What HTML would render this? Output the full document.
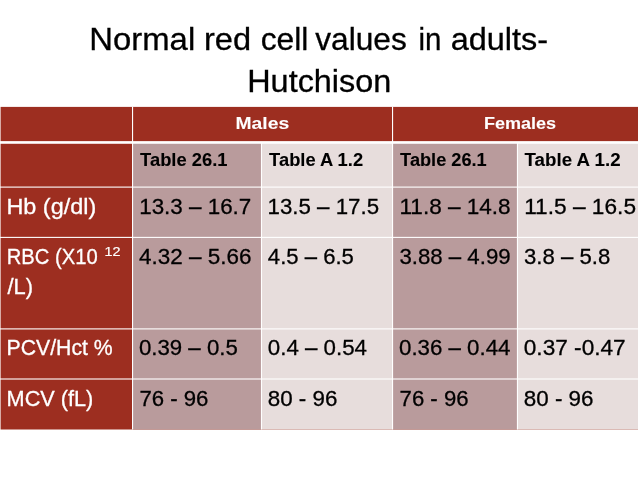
<!DOCTYPE html>
<html lang="en"><head><meta charset="utf-8"><title>Normal red cell values in adults - Hutchison</title>
<style>html,body{margin:0;padding:0;background:#fff;overflow:hidden}svg{display:block}text{font-family:"Liberation Sans",sans-serif;white-space:pre}</style></head><body>
<svg width="638" height="479" viewBox="0 0 638 479">
<rect width="638" height="479" fill="#fff"/>
<rect x="0.6" y="106.9" width="643" height="322.60" fill="#9d2e20"/>
<rect x="132.55" y="142.45" width="128.95" height="287.05" fill="#b99b9c"/>
<rect x="261.5" y="142.45" width="131.05" height="287.05" fill="#e7dddc"/>
<rect x="392.55" y="142.45" width="124.90" height="287.05" fill="#b99b9c"/>
<rect x="517.45" y="142.45" width="125.55" height="287.05" fill="#e7dddc"/>
<rect x="132.00" y="106.9" width="1.1" height="322.60" fill="#fff"/>
<rect x="392.00" y="106.9" width="1.1" height="322.60" fill="#fff"/>
<rect x="260.95" y="142.45" width="1.1" height="287.05" fill="#fff"/>
<rect x="516.90" y="142.45" width="1.1" height="287.05" fill="#fff"/>
<rect x="0" y="141.12" width="638" height="2.66" fill="#fff"/>
<rect x="0" y="186.55" width="638" height="1.1" fill="#fff"/>
<rect x="0" y="236.85" width="638" height="1.1" fill="#fff"/>
<rect x="0" y="328.35" width="638" height="1.1" fill="#fff"/>
<rect x="0" y="378.45" width="638" height="1.1" fill="#fff"/>
<text transform="translate(89.37 49.6) scale(1.0531 1)" font-size="31.2" stroke="#000" stroke-width="0.3" fill="#000" xml:space="preserve">Normal</text>
<text transform="translate(204.02 49.6) scale(1.0447 1)" font-size="31.2" stroke="#000" stroke-width="0.3" fill="#000" xml:space="preserve">red</text>
<text transform="translate(260.63 49.6) scale(1.0192 1)" font-size="31.2" stroke="#000" stroke-width="0.3" fill="#000" xml:space="preserve">cell</text>
<text transform="translate(315.18 49.6) scale(1.0157 1)" font-size="31.2" stroke="#000" stroke-width="0.3" fill="#000" xml:space="preserve">values</text>
<text transform="translate(418.53 49.6) scale(0.9465 1)" font-size="31.2" stroke="#000" stroke-width="0.3" fill="#000" xml:space="preserve">in</text>
<text transform="translate(450.70 49.6) scale(1.0395 1)" font-size="31.2" stroke="#000" stroke-width="0.3" fill="#000" xml:space="preserve">adults-</text>
<text transform="translate(247.21 92.2) scale(1.0391 1)" font-size="31.2" stroke="#000" stroke-width="0.3" fill="#000" xml:space="preserve">Hutchison</text>
<text transform="translate(235.45 128.8) scale(1.1107 1)" font-size="17.4" font-weight="700" stroke="#fff" stroke-width="0.08" fill="#fff" xml:space="preserve">Males</text>
<text transform="translate(483.94 128.8) scale(1.0371 1)" font-size="17.4" font-weight="700" stroke="#fff" stroke-width="0.08" fill="#fff" xml:space="preserve">Females</text>
<text transform="translate(140.12 165.8) scale(1.0378 1)" font-size="17.7" font-weight="700" stroke="#000" stroke-width="0.08" fill="#000" xml:space="preserve">Table 26.1</text>
<text transform="translate(269.12 165.8) scale(1.0354 1)" font-size="17.7" font-weight="700" stroke="#000" stroke-width="0.08" fill="#000" xml:space="preserve">Table A 1.2</text>
<text transform="translate(400.12 165.8) scale(1.0282 1)" font-size="17.7" font-weight="700" stroke="#000" stroke-width="0.08" fill="#000" xml:space="preserve">Table 26.1</text>
<text transform="translate(524.51 165.8) scale(1.0588 1)" font-size="17.7" font-weight="700" stroke="#000" stroke-width="0.08" fill="#000" xml:space="preserve">Table A 1.2</text>
<text transform="translate(6.42 213.5) scale(1.0559 1)" font-size="22.2" stroke="#fff" stroke-width="0.3" fill="#fff" xml:space="preserve">Hb (g/dl)</text>
<text transform="translate(6.68 263.7) scale(0.9112 1)" font-size="22.2" stroke="#fff" stroke-width="0.3" fill="#fff" xml:space="preserve">RBC (X10</text>
<text transform="translate(104.45 255.6) scale(1.1510 1)" font-size="12.5" stroke="#fff" stroke-width="0.2" fill="#fff" xml:space="preserve">12</text>
<text transform="translate(7.50 294.0) scale(0.9861 1)" font-size="22.2" stroke="#fff" stroke-width="0.3" fill="#fff" xml:space="preserve">/L)</text>
<text transform="translate(6.60 354.6) scale(0.9562 1)" font-size="22.2" stroke="#fff" stroke-width="0.3" fill="#fff" xml:space="preserve">PCV/Hct %</text>
<text transform="translate(6.56 406.0) scale(0.9779 1)" font-size="22.2" stroke="#fff" stroke-width="0.3" fill="#fff" xml:space="preserve">MCV (fL)</text>
<text transform="translate(139.21 213.5) scale(1.0091 1)" font-size="22.2" stroke="#000" stroke-width="0.3" fill="#000" xml:space="preserve">13.3 – 16.7</text>
<text transform="translate(267.52 213.5) scale(1.0043 1)" font-size="22.2" stroke="#000" stroke-width="0.3" fill="#000" xml:space="preserve">13.5 – 17.5</text>
<text transform="translate(399.50 213.5) scale(1.0152 1)" font-size="22.2" stroke="#000" stroke-width="0.3" fill="#000" xml:space="preserve">11.8 – 14.8</text>
<text transform="translate(524.19 213.5) scale(1.0217 1)" font-size="22.2" stroke="#000" stroke-width="0.3" fill="#000" xml:space="preserve">11.5 – 16.5</text>
<text transform="translate(139.05 263.7) scale(1.0121 1)" font-size="22.2" stroke="#000" stroke-width="0.3" fill="#000" xml:space="preserve">4.32 – 5.66</text>
<text transform="translate(267.86 263.7) scale(0.9962 1)" font-size="22.2" stroke="#000" stroke-width="0.3" fill="#000" xml:space="preserve">4.5 – 6.5</text>
<text transform="translate(399.41 263.7) scale(1.0016 1)" font-size="22.2" stroke="#000" stroke-width="0.3" fill="#000" xml:space="preserve">3.88 – 4.99</text>
<text transform="translate(524.01 263.7) scale(0.9990 1)" font-size="22.2" stroke="#000" stroke-width="0.3" fill="#000" xml:space="preserve">3.8 – 5.8</text>
<text transform="translate(138.91 354.6) scale(1.0019 1)" font-size="22.2" stroke="#000" stroke-width="0.3" fill="#000" xml:space="preserve">0.39 – 0.5</text>
<text transform="translate(267.81 354.6) scale(1.0048 1)" font-size="22.2" stroke="#000" stroke-width="0.3" fill="#000" xml:space="preserve">0.4 – 0.54</text>
<text transform="translate(399.01 354.6) scale(1.0032 1)" font-size="22.2" stroke="#000" stroke-width="0.3" fill="#000" xml:space="preserve">0.36 – 0.44</text>
<text transform="translate(523.79 354.6) scale(1.0194 1)" font-size="22.2" stroke="#000" stroke-width="0.3" fill="#000" xml:space="preserve">0.37 -0.47</text>
<text transform="translate(139.39 406.0) scale(0.9993 1)" font-size="22.2" stroke="#000" stroke-width="0.3" fill="#000" xml:space="preserve">76 - 96</text>
<text transform="translate(267.80 406.0) scale(1.0079 1)" font-size="22.2" stroke="#000" stroke-width="0.3" fill="#000" xml:space="preserve">80 - 96</text>
<text transform="translate(399.59 406.0) scale(0.9979 1)" font-size="22.2" stroke="#000" stroke-width="0.3" fill="#000" xml:space="preserve">76 - 96</text>
<text transform="translate(523.80 406.0) scale(1.0094 1)" font-size="22.2" stroke="#000" stroke-width="0.3" fill="#000" xml:space="preserve">80 - 96</text>
</svg></body></html>
